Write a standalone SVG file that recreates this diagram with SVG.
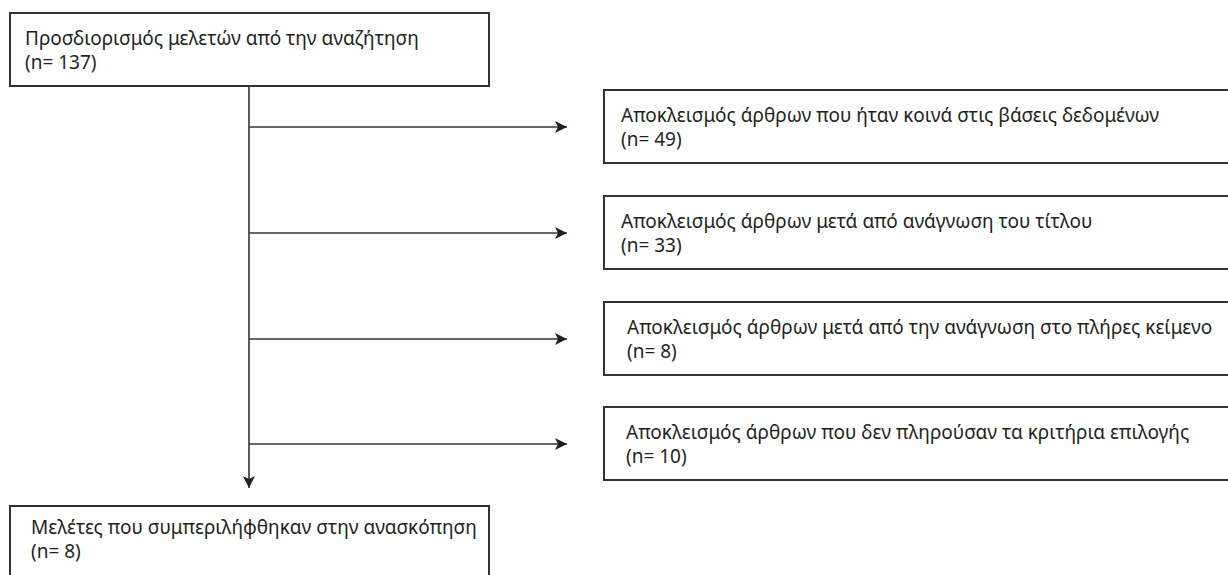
<svg xmlns="http://www.w3.org/2000/svg" width="1228" height="575" viewBox="0 0 1228 575">
<defs>
<style>
.box{fill:#fff;stroke:#333;stroke-width:2}
.t{font-family:"Noto Sans","Open Sans","DejaVu Sans",sans-serif;font-size:19px;fill:#231f20}
.c{fill:none;stroke:#333;stroke-width:1.6}
</style>
<marker id="ah" markerWidth="12" markerHeight="12" refX="12" refY="6" orient="auto" markerUnits="userSpaceOnUse">
<path d="M0,0 L12,6 L0,12 L3,6 Z" fill="#231f20"/>
</marker>
</defs>
<rect width="1228" height="575" fill="#fff"/>
<g id="connectors">
<path class="c" d="M249,86 V488" marker-end="url(#ah)"/>
<path class="c" d="M249,127 H567" marker-end="url(#ah)"/>
<path class="c" d="M249,233 H567" marker-end="url(#ah)"/>
<path class="c" d="M249,339 H567" marker-end="url(#ah)"/>
<path class="c" d="M249,444 H567" marker-end="url(#ah)"/>
</g>
<g id="n-identified">
<rect class="box" x="10" y="13" width="479" height="73"/>
<text class="t" x="25" y="45">Προσδιορισμός μελετών από την αναζήτηση</text>
<text class="t" x="25" y="69">(n= 137)</text>
</g>
<g id="n-duplicates">
<rect class="box" x="604" y="90" width="640" height="73"/>
<text class="t" x="621" y="122">Αποκλεισμός άρθρων που ήταν κοινά στις βάσεις δεδομένων</text>
<text class="t" x="621" y="146">(n= 49)</text>
</g>
<g id="n-title">
<rect class="box" x="604" y="196" width="640" height="73"/>
<text class="t" x="621" y="228">Αποκλεισμός άρθρων μετά από ανάγνωση του τίτλου</text>
<text class="t" x="621" y="252">(n= 33)</text>
</g>
<g id="n-fulltext">
<rect class="box" x="604" y="302" width="640" height="73"/>
<text class="t" x="627" y="334" font-size="18.8">Αποκλεισμός άρθρων μετά από την ανάγνωση στο πλήρες κείμενο</text>
<text class="t" x="627" y="358">(n= 8)</text>
</g>
<g id="n-criteria">
<rect class="box" x="604" y="407" width="640" height="73"/>
<text class="t" x="626" y="439">Αποκλεισμός άρθρων που δεν πληρούσαν τα κριτήρια επιλογής</text>
<text class="t" x="626" y="463">(n= 10)</text>
</g>
<g id="n-included">
<rect class="box" x="10" y="506" width="479" height="90"/>
<text class="t" x="31" y="534">Μελέτες που συμπεριλήφθηκαν στην ανασκόπηση</text>
<text class="t" x="31" y="558">(n= 8)</text>
</g>
</svg>
